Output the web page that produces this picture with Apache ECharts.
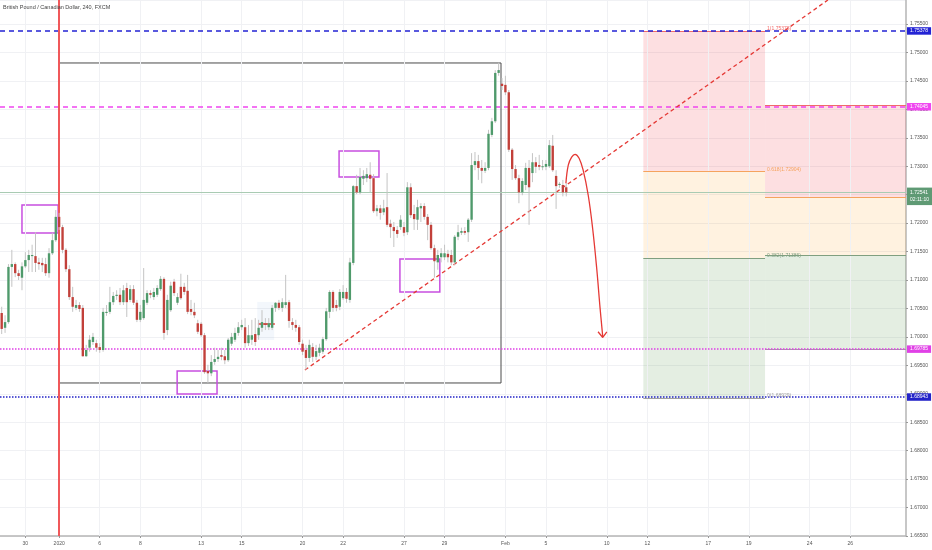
<!DOCTYPE html>
<html lang="en">
<head>
<meta charset="utf-8">
<script src="https://cdn.jsdelivr.net/npm/echarts@6/dist/echarts.min.js"></script>
<style>
  html, body { margin: 0; padding: 0; background: #fff; }
  #chart { width: 932px; height: 550px; }
</style>
</head>
<body>
<div id="chart"></div>
<script>
// time axis labels: bar index -> text (6 bars of 4h per trading day)
var tickIdx  = [7, 17, 29, 41, 59, 71, 89, 101, 119, 131, 149, 161, 179, 191, 209, 221, 239, 251];
var tickText = ['30', '2020', '6', '8', '13', '15', '20', '22', '27', '29', 'Feb', '5', '10', '12', '17', '19', '24', '26'];

// GBPCAD 4h bars: [open, close, low, high]
var ohlc = [
  [1.7042,1.7014,1.7005,1.7053],[1.7016,1.7026,1.7007,1.7038],[1.7026,1.7123,1.7023,1.7128],[1.7123,1.7128,1.7088,1.7153],
  [1.7128,1.7112,1.7105,1.7131],[1.7112,1.7107,1.7100,1.7118],[1.7104,1.7124,1.7082,1.7131],[1.7124,1.7135,1.7121,1.7149],
  [1.7135,1.7144,1.7114,1.7153],[1.7142,1.7144,1.7114,1.7162],[1.7142,1.7130,1.7114,1.7184],[1.7131,1.7128,1.7118,1.7139],
  [1.7130,1.7126,1.7114,1.7139],[1.7128,1.7112,1.7107,1.7139],[1.7112,1.7147,1.7104,1.7156],[1.7147,1.7170,1.7144,1.7183],
  [1.7170,1.7211,1.7167,1.7223],[1.7211,1.7193,1.7188,1.7218],[1.7193,1.7153,1.7147,1.7197],[1.7153,1.7119,1.7114,1.7156],
  [1.7119,1.7070,1.7065,1.7126],[1.7070,1.7053,1.7044,1.7088],[1.7051,1.7056,1.7047,1.7065],[1.7056,1.7049,1.7044,1.7061],
  [1.7051,1.6966,1.6965,1.7056],[1.6966,1.6977,1.6965,1.6986],[1.6981,1.6995,1.6974,1.7003],[1.6991,1.7000,1.6986,1.7007],
  [1.6989,1.6981,1.6974,1.6995],[1.6982,1.6977,1.6972,1.6989],[1.6977,1.7044,1.6974,1.7051],[1.7042,1.7044,1.7037,1.7056],
  [1.7044,1.7061,1.7040,1.7088],[1.7061,1.7072,1.7056,1.7079],[1.7072,1.7074,1.7065,1.7082],[1.7074,1.7061,1.7056,1.7086],
  [1.7061,1.7082,1.7056,1.7091],[1.7086,1.7061,1.7035,1.7095],[1.7065,1.7084,1.7061,1.7091],[1.7084,1.7060,1.7056,1.7091],
  [1.7060,1.7030,1.7026,1.7065],[1.7030,1.7044,1.7026,1.7056],[1.7033,1.7065,1.7030,1.7121],[1.7060,1.7077,1.7056,1.7082],
  [1.7077,1.7074,1.7068,1.7082],[1.7070,1.7079,1.7065,1.7086],[1.7074,1.7086,1.7070,1.7091],[1.7084,1.7102,1.7081,1.7107],
  [1.7102,1.7007,1.6995,1.7105],[1.7012,1.7065,1.7003,1.7074],[1.7047,1.7090,1.7044,1.7097],[1.7097,1.7077,1.7072,1.7102],
  [1.7060,1.7070,1.7056,1.7077],[1.7088,1.7068,1.7065,1.7111],[1.7088,1.7079,1.7074,1.7095],[1.7081,1.7044,1.7040,1.7109],
  [1.7049,1.7044,1.7038,1.7065],[1.7044,1.7038,1.7033,1.7060],[1.7024,1.7009,1.7005,1.7030],[1.7023,1.7003,1.7000,1.7026],
  [1.7003,1.6938,1.6935,1.7007],[1.6940,1.6936,1.6919,1.6951],[1.6936,1.6956,1.6931,1.6968],[1.6956,1.6961,1.6951,1.6981],
  [1.6961,1.6965,1.6956,1.6977],[1.6968,1.6965,1.6959,1.6981],[1.6966,1.6959,1.6952,1.6977],[1.6959,1.6995,1.6956,1.6998],
  [1.6988,1.7000,1.6984,1.7007],[1.6995,1.7007,1.6991,1.7016],[1.7007,1.7017,1.7002,1.7026],[1.7017,1.7021,1.7012,1.7030],
  [1.7017,1.6989,1.6981,1.7033],[1.6989,1.7003,1.6984,1.7021],[1.6995,1.7003,1.6986,1.7030],[1.7005,1.6991,1.6984,1.7033],
  [1.7003,1.7016,1.6995,1.7030],[1.7016,1.7026,1.7009,1.7047],[1.7024,1.7021,1.7012,1.7033],[1.7017,1.7024,1.7012,1.7033],
  [1.7016,1.7051,1.7012,1.7056],[1.7051,1.7060,1.7044,1.7061],[1.7060,1.7051,1.7047,1.7065],[1.7051,1.7061,1.7044,1.7068],
  [1.7056,1.7061,1.7051,1.7109],[1.7061,1.7028,1.7016,1.7065],[1.7026,1.7021,1.7012,1.7033],[1.7021,1.7016,1.7009,1.7030],
  [1.7017,1.6991,1.6986,1.7021],[1.6988,1.6974,1.6968,1.6995],[1.6977,1.6963,1.6942,1.6986],[1.6963,1.6986,1.6956,1.6995],
  [1.6982,1.6965,1.6956,1.6989],[1.6965,1.6975,1.6959,1.6986],[1.6972,1.6981,1.6966,1.6988],[1.6974,1.6996,1.6970,1.7000],
  [1.6996,1.7045,1.6993,1.7051],[1.7044,1.7079,1.7033,1.7082],[1.7079,1.7051,1.7044,1.7082],[1.7056,1.7051,1.7045,1.7065],
  [1.7053,1.7079,1.7047,1.7084],[1.7068,1.7079,1.7065,1.7091],[1.7079,1.7067,1.7060,1.7086],[1.7065,1.7131,1.7060,1.7139],
  [1.7130,1.7265,1.7126,1.7267],[1.7265,1.7254,1.7251,1.7285],[1.7254,1.7281,1.7251,1.7297],[1.7278,1.7283,1.7267,1.7293],
  [1.7279,1.7286,1.7272,1.7297],[1.7285,1.7278,1.7254,1.7307],[1.7279,1.7221,1.7218,1.7286],[1.7221,1.7226,1.7212,1.7232],
  [1.7226,1.7218,1.7206,1.7232],[1.7219,1.7226,1.7214,1.7241],[1.7228,1.7197,1.7193,1.7288],[1.7199,1.7193,1.7174,1.7206],
  [1.7193,1.7186,1.7158,1.7202],[1.7188,1.7181,1.7174,1.7195],[1.7193,1.7206,1.7188,1.7214],[1.7193,1.7183,1.7177,1.7202],
  [1.7184,1.7263,1.7179,1.7272],[1.7263,1.7214,1.7209,1.7270],[1.7216,1.7207,1.7188,1.7232],[1.7206,1.7228,1.7188,1.7241],
  [1.7226,1.7230,1.7202,1.7235],[1.7230,1.7211,1.7206,1.7235],[1.7211,1.7197,1.7170,1.7216],[1.7197,1.7156,1.7153,1.7202],
  [1.7156,1.7133,1.7104,1.7162],[1.7131,1.7144,1.7118,1.7153],[1.7140,1.7147,1.7131,1.7156],[1.7140,1.7147,1.7135,1.7162],
  [1.7146,1.7140,1.7131,1.7153],[1.7144,1.7131,1.7126,1.7153],[1.7131,1.7176,1.7126,1.7179],[1.7176,1.7184,1.7170,1.7197],
  [1.7183,1.7186,1.7179,1.7192],[1.7186,1.7183,1.7179,1.7193],[1.7184,1.7206,1.7167,1.7209],[1.7206,1.7302,1.7202,1.7323],
  [1.7302,1.7309,1.7293,1.7325],[1.7309,1.7297,1.7276,1.7320],[1.7297,1.7292,1.7270,1.7311],[1.7292,1.7297,1.7288,1.7307],
  [1.7297,1.7357,1.7293,1.7364],[1.7355,1.7379,1.7351,1.7385],[1.7379,1.7464,1.7376,1.7469],[1.7464,1.7469,1.7459,1.7482],
  [1.7445,1.7441,1.7434,1.7455],[1.7443,1.7430,1.7425,1.7459],[1.7430,1.7329,1.7325,1.7434],[1.7329,1.7295,1.7276,1.7332],
  [1.7295,1.7279,1.7276,1.7302],[1.7279,1.7254,1.7235,1.7285],[1.7254,1.7274,1.7249,1.7279],[1.7267,1.7297,1.7258,1.7306],
  [1.7297,1.7263,1.7197,1.7311],[1.7288,1.7307,1.7272,1.7323],[1.7307,1.7299,1.7288,1.7316],[1.7302,1.7299,1.7293,1.7320],
  [1.7299,1.7300,1.7293,1.7311],[1.7299,1.7304,1.7293,1.7311],[1.7300,1.7337,1.7297,1.7346],[1.7336,1.7293,1.7290,1.7355],
  [1.7283,1.7265,1.7225,1.7293],[1.7267,1.7269,1.7262,1.7272],[1.7267,1.7254,1.7247,1.7276],[1.7263,1.72541,1.7247,1.7270]
];

var lastPrice = 1.72541;
var timerText = '02:11:10';

// horizontal levels drawn across the chart
var resistHigh = 1.75378;
var resistMid  = 1.74045;
var supportMid = 1.69785;
var supportLow = 1.68943;

// drawings in [bar index, price]
var rangeBox = [[17, 1.74815], [147.7, 1.69190]];
var zoneBoxes = [
  [[6.0, 1.72319], [16.7, 1.71826]],
  [[99.8, 1.73268], [111.6, 1.72811]],
  [[117.8, 1.71369], [129.6, 1.70789]],
  [[51.9, 1.69400], [63.7, 1.68996]]
];
var trendLine = [[89.7, 1.69418], [244.4, 1.75922]];
var pathBars   = [166.9, 167.6, 168.6, 169.6, 170.8, 172.0, 173.5, 174.8, 176.0, 177.0, 177.8];
var pathPrices = [1.7270, 1.7302, 1.7316, 1.7321, 1.7314, 1.7293, 1.7249, 1.7191, 1.7121, 1.7051, 1.7000];
var headBars   = [176.4, 177.8, 179.0];
var headPrices = [1.7009, 1.6999, 1.7009];

// fibonacci blocks
var fibA = { from: 189.8, to: 225.8, levels: [1.75378, 1.72904, 1.71386, 1.68929], names: ['1', '0.618', '0.382', '0'] };
var fibB = { from: 225.8, to: 267.5, levels: [1.74070, 1.72454, 1.71440, 1.69785] };

var green = '#4f9a6b', red = '#c2403a';
var font = 'Liberation Sans';

function renderCandle(params, api) {
  var x = api.value(0), o = api.value(1), c = api.value(2), l = api.value(3), h = api.value(4);
  var pO = api.coord([x, o]), pC = api.coord([x, c]);
  var pL = api.coord([x, l]), pH = api.coord([x, h]);
  var w = api.size([1, 0])[0] * 0.7;
  var top = Math.min(pO[1], pC[1]);
  var bh = Math.max(Math.abs(pO[1] - pC[1]), 1);
  return {
    type: 'group',
    children: [
      { type: 'line', shape: { x1: pH[0], y1: pH[1], x2: pL[0], y2: pL[1] }, style: { stroke: '#c4c4c4', lineWidth: 1 } },
      { type: 'rect', shape: { x: pO[0] - w / 2, y: top, width: w, height: bh }, style: { fill: c >= o ? green : red } }
    ]
  };
}

function fibFills(f) {
  var fills = ['rgba(242,54,69,0.16)', 'rgba(255,152,0,0.12)', 'rgba(76,140,60,0.15)'];
  var out = [];
  for (var k = 0; k < 3; k++) {
    out.push([{ coord: [f.from, f.levels[k]], itemStyle: { color: fills[k] } }, { coord: [f.to, f.levels[k + 1]] }]);
  }
  return out;
}

var fibColors = ['#f06a6a', '#f5a35e', '#7f9f80', '#a0a0a0'];
function fibLines(f, withLabels) {
  return f.levels.map(function (v, k) {
    return [{
      coord: [f.from, v],
      lineStyle: { color: fibColors[k], width: 1, type: 'solid' },
      label: withLabels ? {
        show: true, position: 'end', distance: 2, offset: [0, -2],
        formatter: f.names[k] + '(' + v.toFixed(5) + ')',
        color: fibColors[k], fontSize: 5, fontFamily: font
      } : { show: false }
    }, { coord: [f.to, v] }];
  });
}

function tag(value, color, lineType) {
  return {
    yAxis: value,
    lineStyle: { color: color, type: lineType, width: 1.5 },
    label: { backgroundColor: color }
  };
}

var chart = echarts.init(document.getElementById('chart'));

var option = {
  animation: false,
  title: {
    text: 'British Pound / Canadian Dollar, 240, FXCM',
    left: 3, top: 4, padding: 0,
    textStyle: { fontSize: 5.5, fontWeight: 'normal', color: '#444', fontFamily: font }
  },
  grid: { left: 0, right: 26, top: 0, bottom: 14 },
  xAxis: {
    type: 'value', min: -0.5, max: 267.5,
    splitLine: { show: false },
    axisLine: { onZero: false, lineStyle: { color: '#b5b5b5', width: 1.5 } },
    axisTick: { customValues: tickIdx, length: 2, lineStyle: { color: '#999' } },
    axisLabel: {
      customValues: tickIdx,
      formatter: function (v) { return tickText[tickIdx.indexOf(v)]; },
      fontSize: 5, color: '#555', margin: 5, fontFamily: font
    }
  },
  yAxis: {
    type: 'value', position: 'right',
    min: 1.665, max: 1.75922, interval: 0.005,
    splitLine: { lineStyle: { color: '#f0f1f4' } },
    axisLine: { show: true, onZero: false, lineStyle: { color: '#b5b5b5', width: 1.5 } },
    axisTick: { show: true, length: 2, lineStyle: { color: '#999' } },
    axisLabel: {
      fontSize: 5, color: '#555', margin: 4, fontFamily: font, showMaxLabel: false,
      formatter: function (v) { return v.toFixed(5); }
    }
  },
  series: [
    {
      // vertical grid lines at the date labels
      type: 'line', data: [], z: 1, silent: true,
      markLine: {
        symbol: ['none', 'none'], silent: true, precision: 5, label: { show: false },
        lineStyle: { color: '#f0f1f4', width: 1, type: 'solid' },
        data: tickIdx.map(function (v) { return { xAxis: v }; })
      }
    },
    {
      // fib fills and the faint blue box
      type: 'line', data: [], z: 2, silent: true,
      markArea: {
        silent: true,
        data: fibFills(fibA).concat(fibFills(fibB)).concat([
          [{ coord: [75.6, 1.70615], itemStyle: { color: 'rgba(100,150,220,0.08)' } }, { coord: [80.6, 1.69945] }]
        ])
      }
    },
    {
      type: 'line', data: [], z: 3, silent: true,
      markLine: {
        symbol: ['none', 'none'], silent: true, precision: 5,
        data: fibLines(fibA, true).concat(fibLines(fibB, false)).concat([
          [{ coord: [75.8, 1.70227], lineStyle: { color: '#e53935', width: 1.5, type: 'solid' }, label: { show: false } },
           { coord: [80.8, 1.70227] }]
        ])
      }
    },
    {
      type: 'custom', name: 'GBPCAD', z: 5,
      renderItem: renderCandle,
      encode: { x: 0, y: [1, 2, 3, 4] },
      data: ohlc.map(function (d, i) { return [i, d[0], d[1], d[2], d[3]]; })
    },
    {
      // boxes
      type: 'line', data: [], z: 6, silent: true,
      markArea: {
        silent: true,
        data: [[{ coord: rangeBox[0], itemStyle: { color: 'rgba(0,0,0,0)', borderColor: '#4a4a4a', borderWidth: 1 } }, { coord: rangeBox[1] }]]
          .concat(zoneBoxes.map(function (b) {
            return [{ coord: b[0], itemStyle: { color: 'rgba(0,0,0,0)', borderColor: '#c84fe0', borderWidth: 1.5 } }, { coord: b[1] }];
          }))
      }
    },
    {
      // levels, price tags, year line, trend line
      type: 'line', data: [], z: 7, silent: true,
      markLine: {
        symbol: ['none', 'none'], silent: true, precision: 5,
        label: {
          show: true, position: 'end', distance: 1, color: '#fff', fontSize: 5, fontFamily: font,
          padding: [1.5, 3, 1, 3],
          formatter: function (p) { return p.value.toFixed(5); }
        },
        data: [
          tag(resistHigh, '#2323d4', [5, 4]),
          tag(resistMid, '#f046f0', [5, 4]),
          tag(supportMid, '#e040e6', [1.5, 1.5]),
          tag(supportLow, '#2323c8', [1.5, 1.5]),
          {
            yAxis: lastPrice,
            lineStyle: { color: '#a9cbb3', width: 1, type: 'solid' },
            label: {
              backgroundColor: '#5f9a74', lineHeight: 7.5, offset: [0, 4],
              formatter: lastPrice.toFixed(5) + '\n' + timerText
            }
          },
          { xAxis: 17, lineStyle: { color: '#f0585a', width: 2, type: 'solid' }, label: { show: false } },
          [{ coord: trendLine[0], lineStyle: { color: '#e53935', width: 1.3, type: [4, 3] }, label: { show: false } },
           { coord: trendLine[1] }]
        ]
      }
    },
    {
      type: 'line', z: 8, silent: true, smooth: 0.4, symbol: 'none',
      lineStyle: { color: '#e53935', width: 1.3 },
      data: pathBars.map(function (b, k) { return [b, pathPrices[k]]; })
    },
    {
      type: 'line', z: 8, silent: true, symbol: 'none',
      lineStyle: { color: '#e53935', width: 1.3 },
      data: headBars.map(function (b, k) { return [b, headPrices[k]]; })
    }
  ]
};

chart.setOption(option);
</script>
</body>
</html>
